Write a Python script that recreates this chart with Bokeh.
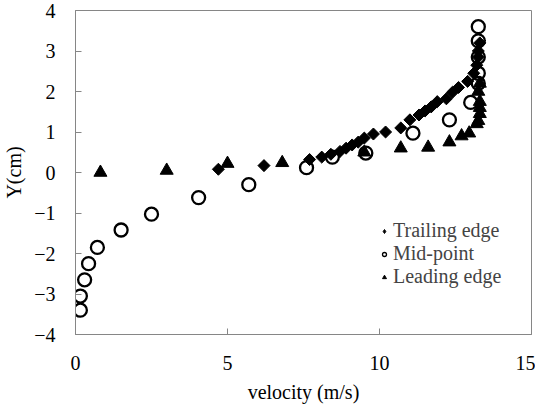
import math
from bokeh.plotting import figure
from bokeh.models import Range1d, FixedTicker, Legend, LegendItem
from bokeh.embed import file_html
from bokeh.resources import INLINE

# Trailing edge (diamonds)
trail_x = [4.7, 6.2, 7.7, 8.1, 8.4, 8.7, 8.9, 9.1, 9.3, 9.5, 9.8, 10.2, 10.7, 11.0, 11.3,
           11.5, 11.7, 11.9, 12.2, 12.4, 12.6, 12.9, 13.1, 13.2, 13.25, 13.25, 13.3]
trail_y = [0.08, 0.17, 0.32, 0.38, 0.45, 0.52, 0.6, 0.68, 0.75, 0.85, 0.95, 1.0, 1.1, 1.3, 1.42,
           1.52, 1.62, 1.75, 1.82, 1.98, 2.1, 2.25, 2.45, 2.65, 2.85, 3.0, 3.2]

# Mid-point (open circles)
mid_x = [0.16, 0.16, 0.3, 0.43, 0.72, 1.5, 2.5, 4.05, 5.7, 7.6, 8.45, 9.55, 11.1, 12.3,
         13.0, 13.25, 13.25, 13.25, 13.25, 13.25]
mid_y = [-3.4, -3.05, -2.65, -2.25, -1.85, -1.42, -1.03, -0.62, -0.3, 0.12, 0.38, 0.48, 0.97, 1.3,
         1.73, 2.2, 2.45, 2.85, 3.25, 3.6]

# Leading edge (triangles)
lead_x = [0.82, 3.0, 5.0, 6.8, 9.5, 10.7, 11.6, 12.3, 12.7, 12.95, 13.2, 13.25, 13.3, 13.3, 13.3, 13.25, 13.3]
lead_y = [0.0, 0.05, 0.22, 0.24, 0.5, 0.6, 0.62, 0.75, 0.9, 0.97, 1.2, 1.28, 1.45, 1.6, 1.75, 2.0, 2.2]

x_ticks = [0, 5, 10, 15]
y_ticks = [-4, -3, -2, -1, 0, 1, 2, 3, 4]
series_names = ["Trailing edge", "Mid-point", "Leading edge"]

FONT = "Liberation Serif"
GRAY = "#868686"

p = figure(frame_width=456, frame_height=324, output_backend="svg", toolbar_location=None,
           x_range=Range1d(0, 15), y_range=Range1d(-4, 4),
           min_border_left=67, min_border_top=10, min_border_right=4, min_border_bottom=62)
p.grid.visible = False
p.outline_line_color = GRAY
p.background_fill_color = "white"
p.border_fill_color = "white"

for ax in (p.xaxis[0], p.yaxis[0]):
    ax.axis_line_color = GRAY
    ax.major_tick_line_color = GRAY
    ax.major_tick_in = 6
    ax.major_tick_out = 0
    ax.minor_tick_line_color = None
    ax.major_label_text_font = FONT
    ax.major_label_text_font_size = "20px"
    ax.major_label_text_color = "black"
    ax.axis_label_text_font = FONT
    ax.axis_label_text_font_size = "20px"
    ax.axis_label_text_font_style = "normal"
    ax.axis_label_text_color = "black"

p.xaxis.ticker = FixedTicker(ticks=x_ticks)
p.yaxis.ticker = FixedTicker(ticks=y_ticks)
p.xaxis.axis_label = "velocity (m/s)"
p.yaxis.axis_label = "Y(cm)"
p.xaxis.major_label_standoff = 21
p.xaxis.axis_label_standoff = 8
p.yaxis.major_label_standoff = 20
p.yaxis.axis_label_standoff = 6

ANG = math.pi / 4
p.scatter(trail_x, trail_y, marker="square", angle=ANG, size=8.5, fill_color="black", line_color="black")
p.scatter(mid_x, mid_y, marker="circle", size=13, fill_alpha=0, line_color="black", line_width=2.3)
p.scatter(lead_x, lead_y, marker="triangle", size=13, fill_color="black", line_color="black")

# smaller legend swatches: hidden proxy renderers (only their legend glyph is drawn)
l1 = p.scatter(trail_x[:1], trail_y[:1], marker="diamond", size=10,
               fill_color="black", line_color="black", visible=False)
l2 = p.scatter(mid_x[:1], mid_y[:1], marker="circle", size=8, fill_alpha=0,
               line_color="black", line_width=1.3, visible=False)
l3 = p.scatter(lead_x[:1], lead_y[:1], marker="triangle", size=9,
               fill_color="black", line_color="black", visible=False)

legend = Legend(items=[LegendItem(label=series_names[0], renderers=[l1]),
                       LegendItem(label=series_names[1], renderers=[l2]),
                       LegendItem(label=series_names[2], renderers=[l3])],
                location=(304, 46), padding=0, margin=0, spacing=0,
                glyph_width=10, glyph_height=20, label_standoff=4,
                label_text_font=FONT, label_text_font_size="20px", label_text_line_height=1.0,
                border_line_color=None, background_fill_alpha=0,
                inactive_fill_alpha=0)
p.add_layout(legend)

open("out.html", "w").write(file_html(p, INLINE))
